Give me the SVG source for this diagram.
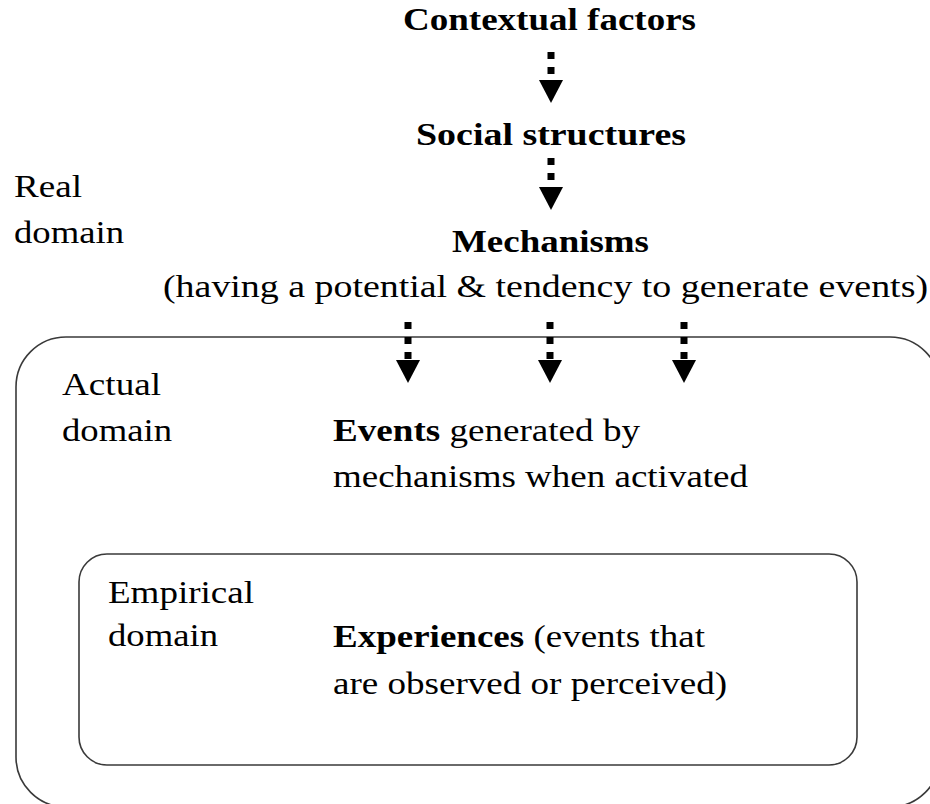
<svg xmlns="http://www.w3.org/2000/svg" width="930" height="804" viewBox="0 0 930 804">
  <style>
    .box { fill: none; stroke: #3a3a3a; stroke-width: 1.6; }
    .dots { stroke: #000; stroke-width: 7; stroke-dasharray: 7 8; fill: none; }
    .head { fill: #000; }
  </style>
  <defs>
    <g id="arrowHead">
      <polygon class="head" points="-12,0 12,0 0,23"/>
    </g>
  </defs>

  <!-- domain boxes -->
  <g id="actual-domain-box">
    <rect class="box" x="16" y="337" width="924" height="470" rx="50" ry="50"/>
  </g>
  <g id="empirical-domain-box">
    <rect class="box" x="79" y="554" width="778" height="211" rx="28" ry="28"/>
  </g>

  <!-- domain labels -->
  <g id="real-domain-label">
    <text x="14" y="197" font-size="32" font-family="Liberation Serif" textLength="68" lengthAdjust="spacingAndGlyphs">Real</text>
    <text x="14" y="243" font-size="32" font-family="Liberation Serif" textLength="110" lengthAdjust="spacingAndGlyphs">domain</text>
  </g>
  <g id="actual-domain-label">
    <text x="62" y="395" font-size="32" font-family="Liberation Serif" textLength="99" lengthAdjust="spacingAndGlyphs">Actual</text>
    <text x="62" y="441" font-size="32" font-family="Liberation Serif" textLength="110" lengthAdjust="spacingAndGlyphs">domain</text>
  </g>
  <g id="empirical-domain-label">
    <text x="108" y="603" font-size="32" font-family="Liberation Serif" textLength="146" lengthAdjust="spacingAndGlyphs">Empirical</text>
    <text x="108" y="646" font-size="32" font-family="Liberation Serif" textLength="110" lengthAdjust="spacingAndGlyphs">domain</text>
  </g>

  <!-- nodes -->
  <g id="contextual-factors">
    <text x="403" y="30" font-size="32" font-family="Liberation Serif" font-weight="bold" textLength="293" lengthAdjust="spacingAndGlyphs">Contextual factors</text>
  </g>
  <g id="social-structures">
    <text x="416" y="145" font-size="32" font-family="Liberation Serif" font-weight="bold" textLength="270" lengthAdjust="spacingAndGlyphs">Social structures</text>
  </g>
  <g id="mechanisms">
    <text x="452" y="252" font-size="32" font-family="Liberation Serif" font-weight="bold" textLength="197" lengthAdjust="spacingAndGlyphs">Mechanisms</text>
    <text x="163" y="297" font-size="32" font-family="Liberation Serif" textLength="765" lengthAdjust="spacingAndGlyphs">(having a potential &amp; tendency to generate events)</text>
  </g>
  <g id="events">
    <text x="333" y="441" font-size="32" font-family="Liberation Serif" textLength="307" lengthAdjust="spacingAndGlyphs"><tspan font-weight="bold">Events</tspan> generated by</text>
    <text x="333" y="487" font-size="32" font-family="Liberation Serif" textLength="415" lengthAdjust="spacingAndGlyphs">mechanisms when activated</text>
  </g>
  <g id="experiences">
    <text x="333" y="647" font-size="32" font-family="Liberation Serif" textLength="372" lengthAdjust="spacingAndGlyphs"><tspan font-weight="bold">Experiences</tspan> (events that</text>
    <text x="333" y="694" font-size="32" font-family="Liberation Serif" textLength="394" lengthAdjust="spacingAndGlyphs">are observed or perceived)</text>
  </g>

  <!-- connectors -->
  <g id="connectors">
    <line class="dots" x1="551" y1="52" x2="551" y2="75"/>
    <use href="#arrowHead" x="551" y="80"/>
    <line class="dots" x1="551" y1="158" x2="551" y2="181"/>
    <use href="#arrowHead" x="551" y="187"/>
    <line class="dots" x1="408" y1="322" x2="408" y2="359"/>
    <use href="#arrowHead" x="408" y="360"/>
    <line class="dots" x1="550" y1="322" x2="550" y2="359"/>
    <use href="#arrowHead" x="550" y="360"/>
    <line class="dots" x1="684" y1="322" x2="684" y2="359"/>
    <use href="#arrowHead" x="684" y="360"/>
  </g>
</svg>
